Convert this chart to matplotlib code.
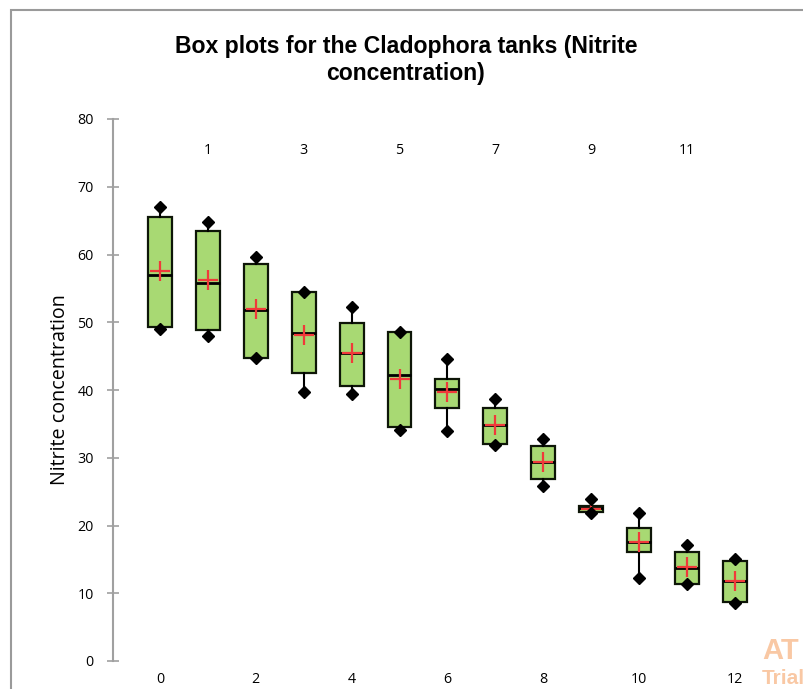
import matplotlib
matplotlib.use("Agg")
import matplotlib.pyplot as plt
from matplotlib.patches import Rectangle
from matplotlib.transforms import blended_transform_factory

# ---- data ----
positions = [0, 1, 2, 3, 4, 5, 6, 7, 8, 9, 10, 11, 12]
mins    = [49.0, 47.9, 44.7, 39.7, 39.4, 34.1, 33.9, 31.9, 25.9, 21.9, 12.3, 11.4, 8.6]
q1s     = [49.25, 48.9, 44.7, 42.55, 40.6, 34.6, 37.4, 32.1, 26.8, 21.95, 16.1, 11.4, 8.7]
medians = [57.0, 55.8, 51.8, 48.4, 45.4, 42.2, 40.2, 34.9, 29.3, 22.6, 17.6, 13.8, 11.8]
means   = [57.6, 56.2, 51.9, 48.1, 45.5, 41.6, 39.7, 34.9, 29.3, 22.5, 17.6, 13.9, 11.8]
q3s     = [65.5, 63.5, 58.6, 54.5, 49.9, 48.6, 41.6, 37.4, 31.7, 22.9, 19.7, 16.1, 14.8]
maxs    = [67.0, 64.8, 59.7, 54.5, 52.2, 48.6, 44.6, 38.7, 32.7, 23.9, 21.9, 17.1, 15.1]

bottom_ticks = [0, 2, 4, 6, 8, 10, 12]
top_ticks = [1, 3, 5, 7, 9, 11]
y_ticks = [0, 10, 20, 30, 40, 50, 60, 70, 80]

title = "Box plots for the Cladophora tanks (Nitrite\nconcentration)"
ylabel = "Nitrite concentration"

W, H = 804, 689
fig = plt.figure(figsize=(W / 100, H / 100), dpi=100)

# outer chart frame (gray border, extends past right/bottom)
fig.patches.append(Rectangle((11 / W, -0.05), 1.1, (H - 10) / H + 0.05,
                             transform=fig.transFigure, fill=False,
                             edgecolor="#9a9a9a", linewidth=1.5, zorder=0))

ax = fig.add_axes([113 / W, 28 / H, (778 - 113) / W, 542 / H])
ax.set_xlim(-0.98, 12.9)
ax.set_ylim(0, 80)

stats = []
for i in range(len(positions)):
    stats.append(dict(med=medians[i], q1=q1s[i], q3=q3s[i],
                      whislo=mins[i], whishi=maxs[i], mean=means[i], fliers=[]))

ax.bxp(stats, positions=positions, widths=0.5, patch_artist=True,
       showmeans=True, showcaps=False, showfliers=False,
       boxprops=dict(facecolor="#a8d973", edgecolor="#0e1608", linewidth=1.6),
       medianprops=dict(color="black", linewidth=2.0),
       whiskerprops=dict(color="black", linewidth=1.5),
       meanprops=dict(marker="+", markersize=15, markeredgecolor="#f03a3a",
                      markeredgewidth=1.6, linestyle="none"),
       manage_ticks=False)

ax.plot(positions, mins, linestyle="none", marker="D", markersize=6,
        color="black", zorder=5)
ax.plot(positions, maxs, linestyle="none", marker="D", markersize=6,
        color="black", zorder=5)

tickfont = {"family": ["Open Sans", "DejaVu Sans"], "size": 10.3}

for s in ["top", "right", "bottom"]:
    ax.spines[s].set_visible(False)
ax.spines["left"].set_color("#a0a0a0")
ax.spines["left"].set_linewidth(1.5)

ax.set_yticks(y_ticks)
ax.set_yticklabels([str(v) for v in y_ticks], fontdict=tickfont)
ax.tick_params(axis="y", direction="inout", length=8, width=1.2,
               color="#a0a0a0", pad=10)
ax.set_xticks(bottom_ticks)
ax.set_xticklabels([str(v) for v in bottom_ticks], fontdict=tickfont)
ax.tick_params(axis="x", length=0, pad=8)

trans = blended_transform_factory(ax.transData, ax.transAxes)
for t in top_ticks:
    ax.text(t, (661 - 151) / 542, str(t), transform=trans, ha="center",
            va="center", fontdict=tickfont)

ax.set_ylabel(ylabel, fontsize=14.2, family=["Open Sans", "DejaVu Sans"],
              labelpad=5)

fig.text(406 / W, 1 - 60 / H, title, ha="center", va="center",
         fontsize=16.6, fontweight="bold",
         family=["Liberation Sans", "DejaVu Sans"], linespacing=1.25)

# watermark fragments
fig.text(762 / W, 1 - 651 / H, "AT", ha="left", va="center", fontsize=21,
         fontweight="bold", color="#f9c8a4",
         family=["Liberation Sans", "DejaVu Sans"])
fig.text(762 / W, 1 - 678 / H, "Trial", ha="left", va="center", fontsize=15,
         fontweight="bold", color="#f9c8a4",
         family=["Liberation Sans", "DejaVu Sans"])

fig.savefig("out.png", dpi=100)
